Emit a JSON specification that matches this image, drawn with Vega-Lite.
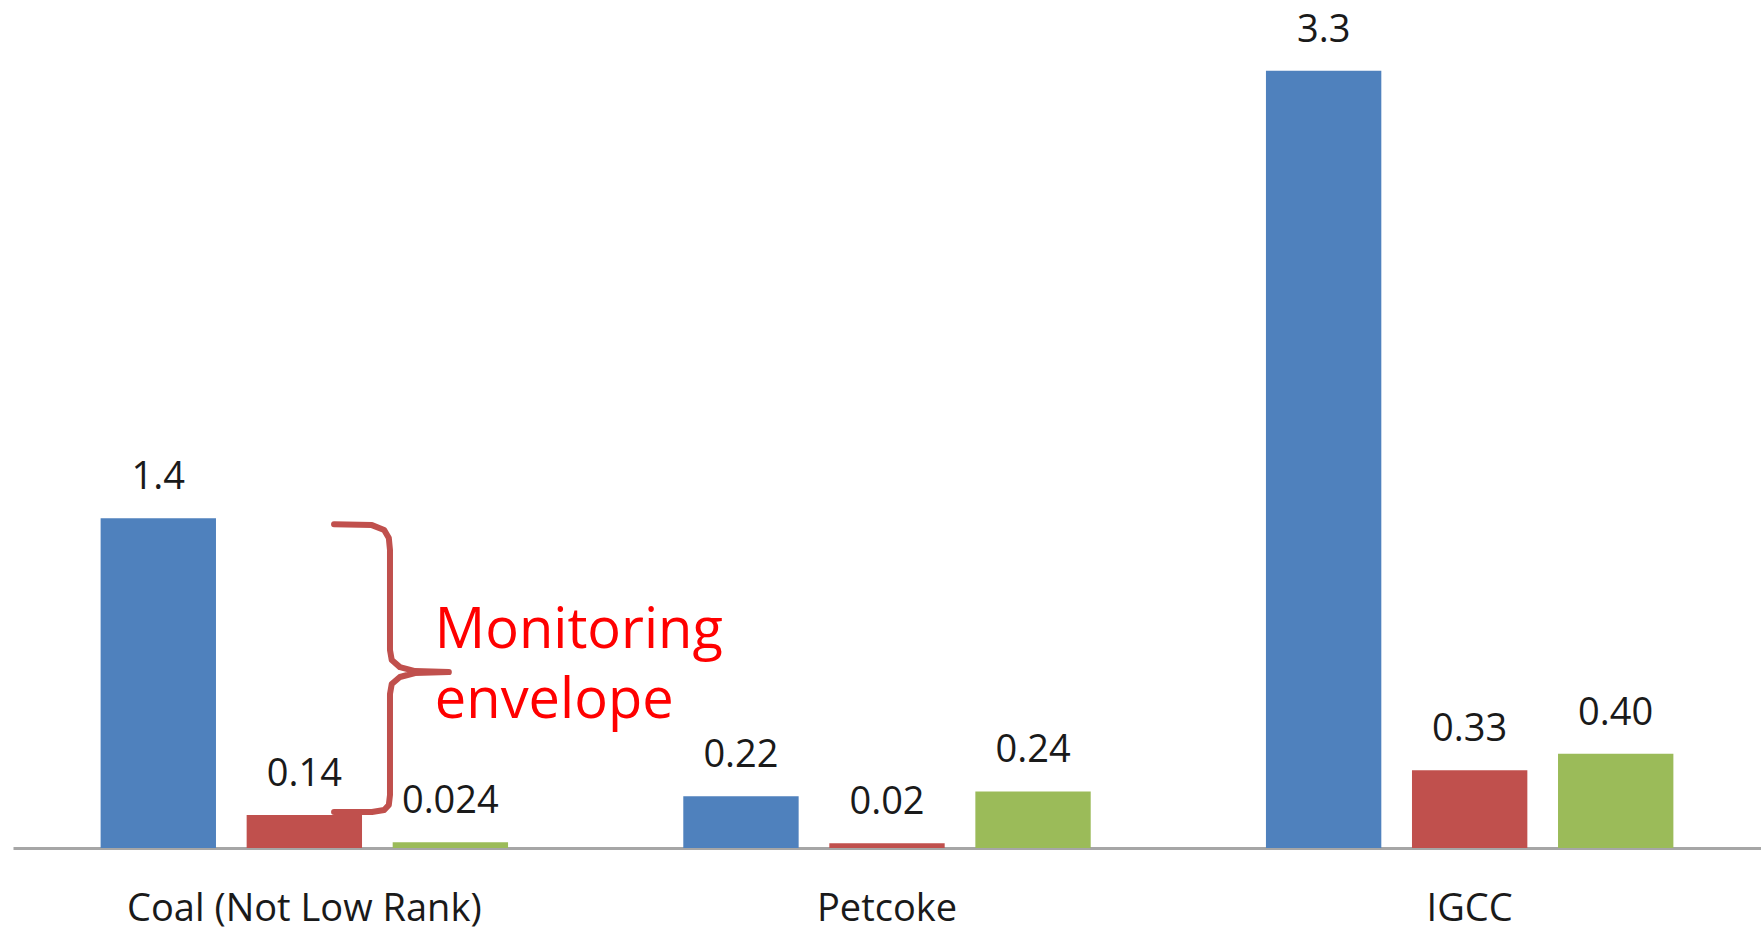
{
  "$schema": "https://vega.github.io/schema/vega-lite/v6.json",
  "width": 1748,
  "height": 842,
  "autosize": {"type": "none"},
  "padding": {"left": 13, "top": 6, "right": 0, "bottom": 84},
  "background": "white",
  "config": {"view": {"stroke": null}, "font": "Open Sans"},
  "layer": [
    {
      "data": {"values": [
        {"fuel": "Coal (Not Low Rank)", "series": "A", "value": 1.4, "label": "1.4"},
        {"fuel": "Coal (Not Low Rank)", "series": "B", "value": 0.14, "label": "0.14"},
        {"fuel": "Coal (Not Low Rank)", "series": "C", "value": 0.024, "label": "0.024"},
        {"fuel": "Petcoke", "series": "A", "value": 0.22, "label": "0.22"},
        {"fuel": "Petcoke", "series": "B", "value": 0.02, "label": "0.02"},
        {"fuel": "Petcoke", "series": "C", "value": 0.24, "label": "0.24"},
        {"fuel": "IGCC", "series": "A", "value": 3.3, "label": "3.3"},
        {"fuel": "IGCC", "series": "B", "value": 0.33, "label": "0.33"},
        {"fuel": "IGCC", "series": "C", "value": 0.40, "label": "0.40"}
      ]},
      "encoding": {
        "x": {"field": "fuel", "type": "nominal", "sort": ["Coal (Not Low Rank)", "Petcoke", "IGCC"],
              "scale": {"paddingInner": 0, "paddingOuter": 0},
              "axis": {"title": null, "ticks": false, "labelAngle": 0, "labelFontSize": 38, "labelColor": "#1a1a1a", "labelLimit": 0,
                       "labelBaseline": "alphabetic", "labelPadding": 72, "domainColor": "#A6A6A6", "domainWidth": 3, "grid": false}},
        "xOffset": {"field": "series", "type": "nominal", "scale": {"paddingInner": 0.21, "paddingOuter": 0.6}},
        "y": {"field": "value", "type": "quantitative", "scale": {"domain": [0, 3.575], "nice": false}, "axis": null}
      },
      "layer": [
        {"mark": {"type": "bar"},
         "encoding": {"color": {"field": "series", "type": "nominal", "legend": null,
                                "scale": {"domain": ["A", "B", "C"], "range": ["#4F81BD", "#C0504D", "#9BBB59"]}}}},
        {"mark": {"type": "text", "baseline": "alphabetic", "dy": -29, "fontSize": 38, "color": "#1a1a1a"},
         "encoding": {"text": {"field": "label"}}}
      ]
    },
    {
      "data": {"values": [
        {"o": 1, "gx": 0.551, "v": 1.375},
        {"o": 2, "gx": 0.616, "v": 1.371},
        {"o": 3, "gx": 0.637, "v": 1.350},
        {"o": 4, "gx": 0.645, "v": 1.316},
        {"o": 5, "gx": 0.647, "v": 1.265},
        {"o": 6, "gx": 0.647, "v": 0.841},
        {"o": 7, "gx": 0.650, "v": 0.798},
        {"o": 8, "gx": 0.664, "v": 0.768},
        {"o": 9, "gx": 0.690, "v": 0.751},
        {"o": 10, "gx": 0.748, "v": 0.747},
        {"o": 11, "gx": 0.690, "v": 0.743},
        {"o": 12, "gx": 0.664, "v": 0.726},
        {"o": 13, "gx": 0.650, "v": 0.696},
        {"o": 14, "gx": 0.647, "v": 0.654},
        {"o": 15, "gx": 0.647, "v": 0.225},
        {"o": 16, "gx": 0.645, "v": 0.183},
        {"o": 17, "gx": 0.637, "v": 0.161},
        {"o": 18, "gx": 0.616, "v": 0.153},
        {"o": 19, "gx": 0.551, "v": 0.153}
      ]},
      "mark": {"type": "line", "color": "#C0504D", "strokeWidth": 6, "strokeCap": "round", "strokeJoin": "round"},
      "encoding": {
        "x": {"field": "gx", "type": "quantitative", "scale": {"domain": [0, 3], "nice": false, "zero": false}, "axis": null},
        "y": {"field": "v", "type": "quantitative", "scale": {"domain": [0, 3.575], "nice": false}, "axis": null},
        "order": {"field": "o", "type": "quantitative"}
      }
    },
    {
      "data": {"values": [
        {"gx": 0.724, "v": 0.849, "t": "Monitoring"},
        {"gx": 0.724, "v": 0.552, "t": "envelope"}
      ]},
      "mark": {"type": "text", "align": "left", "baseline": "alphabetic", "fontSize": 56, "color": "#FF0000"},
      "encoding": {
        "x": {"field": "gx", "type": "quantitative", "scale": {"domain": [0, 3], "nice": false, "zero": false}, "axis": null},
        "y": {"field": "v", "type": "quantitative", "scale": {"domain": [0, 3.575], "nice": false}, "axis": null},
        "text": {"field": "t"}
      }
    }
  ],
  "resolve": {"scale": {"x": "independent"}, "axis": {"x": "independent"}}
}
